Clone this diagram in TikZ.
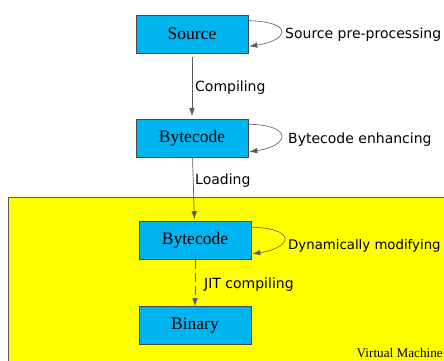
\documentclass[tikz,border=0pt]{standalone}
\usepackage{fontspec}
\usepackage{tikz}
\usetikzlibrary{arrows.meta, positioning}
\usepackage{xcolor}
\newfontfamily\boxfont{Liberation Serif}
\newfontfamily\labelfont{DejaVu Sans}
\definecolor{boxblue}{RGB}{0,180,240}
\definecolor{vmyellow}{RGB}{255,255,0}
\definecolor{linegray}{RGB}{90,90,90}

\tikzset{
    stage/.style={draw=linegray!80!black, fill=boxblue, line width=0.6pt,
        minimum width=112pt, minimum height=38pt, inner sep=0pt,
        font=\boxfont\fontsize{17.5}{20}\selectfont},
    flow/.style={draw=linegray, line width=0.7pt, -{Latex[length=8pt,width=5.5pt]}},
    selfloop/.style={draw=linegray, line width=0.6pt, -{Latex[length=8pt,width=5.5pt]}},
    note/.style={anchor=west, inner sep=0pt, font=\labelfont\fontsize{14}{16}\selectfont}
}

\begin{document}
\begin{tikzpicture}[x=1pt, y=-1pt]
        \clip (0,0) rectangle (444,360);
        \fill[white] (0,0) rectangle (444,360);

        % Virtual machine area
        \draw[draw=linegray, fill=vmyellow, line width=0.8pt] (8,197) rectangle (460,375);
        \node[anchor=base east, inner sep=0pt, font=\boxfont\fontsize{13.2}{15}\selectfont] (vm) at (443,357) {Virtual Machine};

        % The stages
        \node[stage] (src) at (192,34) {Source};
        \node[stage] (bc) at (192,138.5) {Bytecode};
        \node[stage] (vmbc) at (195,240.5) {Bytecode};
        \node[stage] (bin) at (195,325.5) {Binary};

        % Arrows between the stages
        \draw[flow, shorten <=4pt, shorten >=3pt] (src) -- (bc);
        \draw[flow, shorten >=2pt] (bc) -- (vmbc);
        \draw[flow, dash pattern=on 9pt off 4pt] (vmbc) -- (bin);

        % Self loops
        \draw[selfloop] ([yshift=-6pt]src.north east) .. controls +(46,1) and +(40,-6) .. ([xshift=1pt,yshift=7pt]src.south east);
        \draw[selfloop] ([yshift=-5pt]bc.north east) .. controls +(46,1) and +(40,-6) .. ([xshift=1pt,yshift=6pt]bc.south east);
        \draw[selfloop] ([yshift=-6pt]vmbc.north east) .. controls +(46,1) and +(40,-6) .. ([xshift=1pt,yshift=6pt]vmbc.south east);

        % Labels
        \node[note] (pre) at (285,35) {Source pre-processing};
        \node[note] (comp) at (195,88) {Compiling};
        \node[note] (enh) at (288,140) {Bytecode enhancing};
        \node[note] (load) at (195,181) {Loading};
        \node[note, font=\labelfont\fontsize{13.3}{16}\selectfont] (dyn) at (288,246) {Dynamically modifying};
        \node[note] (jit) at (204,285) {JIT compiling};
    \end{tikzpicture}
\end{document}
